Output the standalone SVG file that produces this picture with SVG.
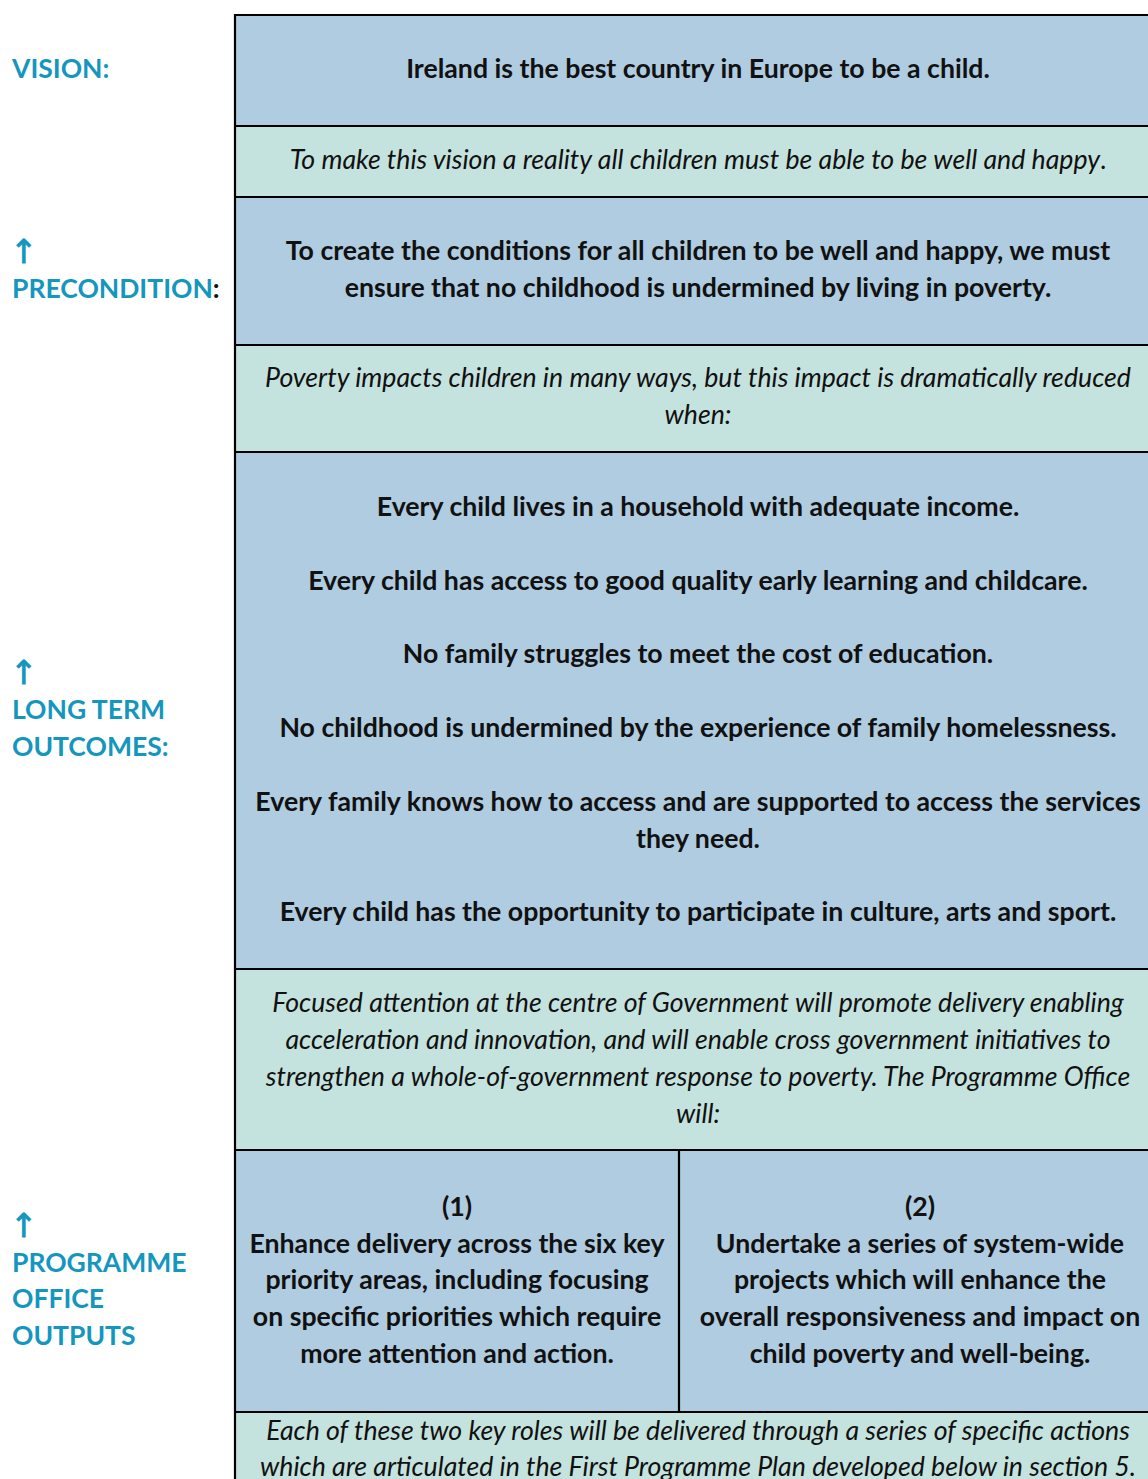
<svg xmlns="http://www.w3.org/2000/svg" width="1148" height="1479" viewBox="0 0 1148 1479">
  <style>
    .blue { fill: #AFCCE1; }
    .green { fill: #C5E3DE; }
    .rule { stroke: #000; stroke-width: 2.2; fill: none; }
    .b { font-family: Lato, "Liberation Sans", sans-serif; font-weight: bold; font-size: 26.7px; fill: #111; text-anchor: middle; }
    .i { font-family: Lato, "Liberation Sans", sans-serif; font-style: italic; font-size: 26.7px; fill: #111; text-anchor: middle; }
    .lbl { font-family: Lato, "DejaVu Sans", sans-serif; font-weight: bold; font-size: 26.5px; fill: #1496BE; }
    .arr { font-family: "DejaVu Sans", sans-serif; font-size: 33px; fill: #1496BE; stroke: #1496BE; stroke-width: 0.8; }
  </style>

  <!-- Row labels -->
  <g id="labels">
    <text class="lbl" x="12" y="77.5">VISION:</text>
    <text class="arr" x="10" y="263">↑</text>
    <text class="lbl" x="12" y="297.5">PRECONDITION<tspan fill="#111">:</tspan></text>
    <text class="arr" x="10" y="684">↑</text>
    <text class="lbl" x="12" y="719">LONG TERM</text>
    <text class="lbl" x="12" y="756">OUTCOMES:</text>
    <text class="arr" x="10" y="1237">↑</text>
    <text class="lbl" x="12" y="1272">PROGRAMME</text>
    <text class="lbl" x="12" y="1308">OFFICE</text>
    <text class="lbl" x="12" y="1345">OUTPUTS</text>
  </g>

  <!-- Vision -->
  <g id="vision">
    <rect class="blue" x="235" y="15" width="930" height="111"/>
    <text class="b" x="698" y="77.5">Ireland is the best country in Europe to be a child.</text>
  </g>

  <g id="vision-note">
    <rect class="green" x="235" y="126" width="930" height="71"/>
    <text class="i" x="698" y="168.5">To make this vision a reality all children must be able to be well and happy<tspan font-style="normal">.</tspan></text>
  </g>

  <!-- Precondition -->
  <g id="precondition">
    <rect class="blue" x="235" y="197" width="930" height="148"/>
    <text class="b" x="698" y="259.5">To create the conditions for all children to be well and happy, we must</text>
    <text class="b" x="698" y="296.5">ensure that no childhood is undermined by living in poverty.</text>
  </g>

  <g id="precondition-note">
    <rect class="green" x="235" y="345" width="930" height="107"/>
    <text class="i" x="698" y="387">Poverty impacts children in many ways, but this impact is dramatically reduced</text>
    <text class="i" x="698" y="424">when:</text>
  </g>

  <!-- Long term outcomes -->
  <g id="outcomes">
    <rect class="blue" x="235" y="452" width="930" height="517"/>
    <text class="b" x="698" y="515.5">Every child lives in a household with adequate income.</text>
    <text class="b" x="698" y="589.5">Every child has access to good quality early learning and childcare.</text>
    <text class="b" x="698" y="662.5">No family struggles to meet the cost of education.</text>
    <text class="b" x="698" y="736.5">No childhood is undermined by the experience of family homelessness.</text>
    <text class="b" x="698" y="810.5">Every family knows how to access and are supported to access the services</text>
    <text class="b" x="698" y="847.5">they need.</text>
    <text class="b" x="698" y="920.5">Every child has the opportunity to participate in culture, arts and sport.</text>
  </g>

  <g id="outcomes-note">
    <rect class="green" x="235" y="969" width="930" height="181"/>
    <text class="i" x="698" y="1011.5">Focused attention at the centre of Government will promote delivery enabling</text>
    <text class="i" x="698" y="1048.5">acceleration and innovation, and will enable cross government initiatives to</text>
    <text class="i" x="698" y="1085.5">strengthen a whole-of-government response to poverty. The Programme Office</text>
    <text class="i" x="698" y="1122.5">will:</text>
  </g>

  <!-- Programme office outputs -->
  <g id="output-1">
    <rect class="blue" x="235" y="1150" width="444" height="262"/>
    <text class="b" x="457" y="1215.5">(1)</text>
    <text class="b" x="457" y="1252.5">Enhance delivery across the six key</text>
    <text class="b" x="457" y="1288.5">priority areas, including focusing</text>
    <text class="b" x="457" y="1325.5">on specific priorities which require</text>
    <text class="b" x="457" y="1362.5">more attention and action.</text>
  </g>

  <g id="output-2">
    <rect class="blue" x="679" y="1150" width="486" height="262"/>
    <text class="b" x="920" y="1215.5">(2)</text>
    <text class="b" x="920" y="1252.5">Undertake a series of system-wide</text>
    <text class="b" x="920" y="1288.5">projects which will enhance the</text>
    <text class="b" x="920" y="1325.5">overall responsiveness and impact on</text>
    <text class="b" x="920" y="1362.5">child poverty and well-being.</text>
  </g>

  <g id="outputs-note">
    <rect class="green" x="235" y="1412" width="930" height="80"/>
    <text class="i" x="698" y="1439.5">Each of these two key roles will be delivered through a series of specific actions</text>
    <text class="i" x="698" y="1475.5">which are articulated in the First Programme Plan developed below in section 5.</text>
  </g>

  <!-- Table rules -->
  <g id="connectors">
    <path class="rule" d="M235,15 H1165 M235,126 H1165 M235,197 H1165 M235,345 H1165 M235,452 H1165 M235,969 H1165 M235,1150 H1165 M235,1412 H1165"/>
    <path class="rule" d="M235,14 V1479 M679,1150 V1412"/>
  </g>
</svg>
